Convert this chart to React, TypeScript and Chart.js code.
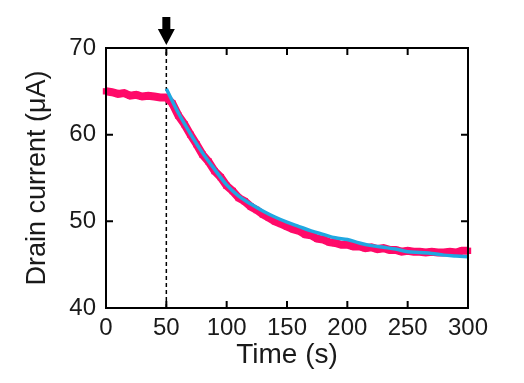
import React, { useEffect, useRef } from "react";
import { Chart, registerables } from "chart.js";

Chart.register(...registerables);

const timeData = [
  0, 5, 10, 15, 20, 25, 30, 35, 40, 45, 50, 55, 60, 65, 70, 75, 80, 85, 90, 95,
  100, 105, 110, 115, 120, 125, 130, 135, 140, 145, 150, 155, 160, 165, 170, 175,
  180, 185, 190, 195, 200, 205, 210, 215, 220, 225, 230, 235, 240, 245, 250, 255,
  260, 265, 270, 275, 280, 285, 290, 295, 300,
];
const currentData = [
  65.0, 64.9, 64.7, 64.8, 64.5, 64.6, 64.4, 64.5, 64.4, 64.3, 64.3, 63.6, 62.2,
  61.2, 60.0, 58.9, 57.7, 56.9, 55.8, 55.1, 54.1, 53.5, 52.7, 52.3, 51.7, 51.3,
  50.8, 50.4, 50.0, 49.7, 49.4, 49.1, 48.9, 48.5, 48.4, 48.0, 47.9, 47.6, 47.5,
  47.3, 47.3, 47.1, 47.1, 46.9, 47.0, 46.8, 46.9, 46.7, 46.7, 46.5, 46.6, 46.5,
  46.5, 46.4, 46.5, 46.4, 46.4, 46.5, 46.4, 46.6, 46.6,
];
const fitTime = [
  50, 60, 70, 80, 90, 100, 110, 120, 130, 140, 150, 160, 170, 180, 190, 200, 210,
  220, 230, 240, 250, 260, 270, 280, 290, 300,
];
const fitData = [
  65.3, 62.5, 60.1, 57.9, 56.0, 54.2, 52.9, 52.0, 51.2, 50.5, 49.9, 49.4, 48.9,
  48.5, 48.1, 47.9, 47.5, 47.2, 47.0, 46.8, 46.5, 46.4, 46.3, 46.1, 46.0, 45.9,
];
const markerTime = 50;
const xTitle = "Time (s)";
const yTitle = "Drain current (\u03bcA)";

const FONT = "'Liberation Sans', Arial, sans-serif";

const framePlugin = {
  id: "frame",
  beforeDatasetsDraw(chart: any) {
    const { ctx, chartArea, scales } = chart;
    const x = scales.x.getPixelForValue(markerTime);
    ctx.save();
    ctx.strokeStyle = "#000";
    ctx.lineWidth = 1.5;
    ctx.setLineDash([4, 3]);
    ctx.beginPath();
    ctx.moveTo(x, chartArea.bottom);
    ctx.lineTo(x, chartArea.top);
    ctx.stroke();
    ctx.restore();
  },
  afterDatasetsDraw(chart: any) {
    const { ctx, chartArea, scales } = chart;
    const { left, right, top, bottom } = chartArea;
    ctx.save();
    ctx.strokeStyle = "#000";
    ctx.lineWidth = 2;
    ctx.strokeRect(left, top, right - left, bottom - top);
    const tl = 7;
    ctx.beginPath();
    scales.x.ticks.forEach((t: any) => {
      const px = scales.x.getPixelForValue(t.value);
      ctx.moveTo(px, bottom);
      ctx.lineTo(px, bottom - tl);
      ctx.moveTo(px, top);
      ctx.lineTo(px, top + tl);
    });
    scales.y.ticks.forEach((t: any) => {
      const py = scales.y.getPixelForValue(t.value);
      ctx.moveTo(left, py);
      ctx.lineTo(left + tl, py);
      ctx.moveTo(right, py);
      ctx.lineTo(right - tl, py);
    });
    ctx.stroke();
    // arrow
    const ax = scales.x.getPixelForValue(markerTime);
    ctx.fillStyle = "#000";
    ctx.beginPath();
    ctx.moveTo(ax - 4, 17);
    ctx.lineTo(ax + 4, 17);
    ctx.lineTo(ax + 4, 29);
    ctx.lineTo(ax + 8.5, 29);
    ctx.lineTo(ax, top - 3);
    ctx.lineTo(ax - 8.5, 29);
    ctx.lineTo(ax - 4, 29);
    ctx.closePath();
    ctx.fill();
    ctx.restore();
  },
};

export default function App() {
  const ref = useRef<HTMLCanvasElement | null>(null);
  useEffect(() => {
    if (!ref.current) return;
    const chart = new Chart(ref.current, {
      type: "scatter",
      data: {
        datasets: [
          {
            data: timeData.map((t, i) => ({ x: t, y: currentData[i] })),
            showLine: true,
            borderColor: "rgb(255,10,105)",
            backgroundColor: "rgb(255,10,105)",
            borderWidth: 8,
            pointStyle: "rect",
            pointRadius: 4.5,
            pointBorderWidth: 0,
            order: 2,
            clip: false as any,
          },
          {
            data: fitTime.map((t, i) => ({ x: t, y: fitData[i] })),
            showLine: true,
            borderColor: "rgb(32,168,225)",
            backgroundColor: "rgb(32,168,225)",
            borderWidth: 3.5,
            pointRadius: 0,
            cubicInterpolationMode: "monotone",
            order: 1,
            clip: false as any,
          },
        ],
      },
      options: {
        responsive: false,
        animation: false,
        layout: { padding: { top: 48, right: 56, left: 0, bottom: 0 } },
        plugins: { legend: { display: false }, tooltip: { enabled: false } },
        scales: {
          x: {
            type: "linear",
            min: 0,
            max: 300,
            ticks: {
              stepSize: 50,
              color: "#1a1a1a",
              font: { family: FONT, size: 24 },
              padding: 6,
              maxRotation: 0,
            },
            grid: { display: false, drawTicks: false },
            border: { display: false },
            title: {
              display: true,
              text: xTitle,
              color: "#1a1a1a",
              font: { family: FONT, size: 28 },
              padding: { top: 0, bottom: 11 },
            },
            afterFit(scale: any) {
              scale.height = 75;
            },
          },
          y: {
            type: "linear",
            min: 40,
            max: 70,
            ticks: {
              stepSize: 10,
              color: "#1a1a1a",
              font: { family: FONT, size: 24 },
              padding: 10,
            },
            grid: { display: false, drawTicks: false },
            border: { display: false },
            title: {
              display: true,
              text: yTitle,
              color: "#1a1a1a",
              font: { family: FONT, size: 27 },
              padding: { top: 21, bottom: 0 },
            },
            afterFit(scale: any) {
              scale.width = 106;
            },
          },
        },
      },
      plugins: [framePlugin],
    });
    return () => chart.destroy();
  }, []);
  return (
    <div style={{ position: "fixed", left: 0, top: 0, width: 524, height: 383, background: "#fff" }}>
      <canvas ref={ref} width={524} height={383} />
    </div>
  );
}
